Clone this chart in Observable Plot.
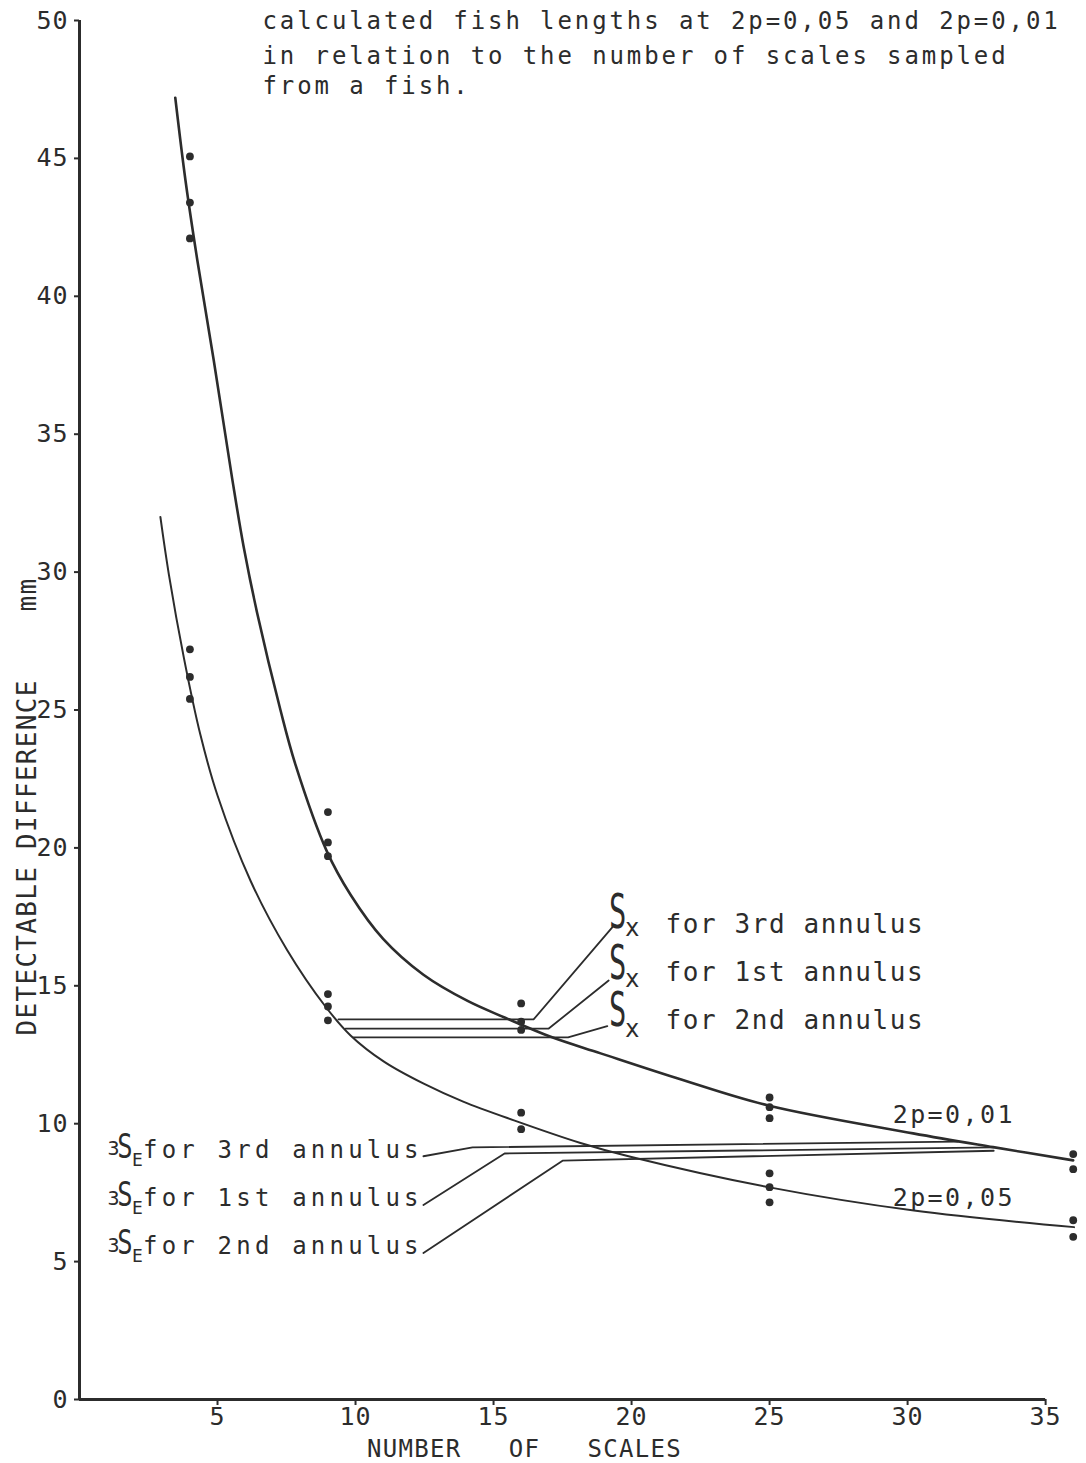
<!DOCTYPE html>
<html>
<head>
<meta charset="utf-8">
<script src="https://cdn.jsdelivr.net/npm/d3@7"></script>
<script src="https://cdn.jsdelivr.net/npm/@observablehq/plot@0.6"></script>
<style>
  html, body { margin: 0; padding: 0; background: #fff; }
</style>
</head>
<body>
<div id="chart"></div>
<script>
// ---------- data ----------
const xTicks = [5, 10, 15, 20, 25, 30, 35];
const yTicks = [0, 5, 10, 15, 20, 25, 30, 35, 40, 45, 50];

// fitted curve 2p=0,01 (upper)
const upperX = [3.47, 3.84, 4.27, 4.86, 5.53, 5.95, 6.44, 7.28, 7.83, 8.95, 9.82, 11.0, 12.46, 14.06, 15.4, 17.07, 18.88, 21.8, 24.95, 30.2, 33.1, 36.0];
const upperY = [47.2, 44.2, 41.3, 37.7, 33.4, 30.9, 28.5, 25.0, 23.0, 19.9, 18.3, 16.7, 15.4, 14.45, 13.85, 13.15, 12.55, 11.6, 10.66, 9.65, 9.15, 8.67];

// fitted curve 2p=0,05 (lower)
const lowerX = [2.93, 3.24, 3.78, 4.38, 5.0, 6.2, 7.52, 8.91, 9.82, 11.03, 12.47, 13.9, 15.74, 18.15, 19.96, 24.95, 30.23, 36.03];
const lowerY = [32.0, 29.9, 26.9, 24.1, 21.9, 18.8, 16.3, 14.25, 13.2, 12.25, 11.45, 10.8, 10.12, 9.3, 8.8, 7.7, 6.85, 6.25];

// observed points
const upperPtX = [4, 4, 4, 9, 9, 9, 16, 16, 16, 25, 25, 25, 36, 36];
const upperPtY = [45.07, 43.4, 42.1, 21.3, 20.2, 19.7, 14.36, 13.7, 13.4, 10.95, 10.6, 10.2, 8.9, 8.35];
const lowerPtX = [4, 4, 4, 9, 9, 9, 16, 16, 25, 25, 25, 36, 36];
const lowerPtY = [27.2, 26.2, 25.4, 14.7, 14.25, 13.75, 10.4, 9.8, 8.2, 7.7, 7.15, 6.5, 5.9];

// S_x levels (horizontal lines + leaders to labels)
const sxNames  = ["for 3rd annulus", "for 1st annulus", "for 2nd annulus"];
const sxLevel  = [13.78, 13.45, 13.13];
const sxStartX = [9.38, 9.64, 9.93];
const sxBendX  = [16.45, 17.0, 17.7];
const sxTipX   = [19.3, 19.17, 19.12];
const sxTipY   = [17.12, 15.19, 13.54];

// 3S_E levels (leaders from labels + nearly horizontal lines)
const seNames   = ["for 3rd annulus", "for 1st annulus", "for 2nd annulus"];
const seLeadX   = [12.46, 12.46, 12.46];
const seLeadY   = [8.82, 7.05, 5.31];
const seStartX  = [14.24, 15.4, 17.5];
const seStartY  = [9.14, 8.92, 8.66];
const seEndX    = [31.81, 33.12, 33.12];
const seEndY    = [9.35, 9.14, 9.02];

const titleLines = ["calculated fish lengths at 2p=0,05 and 2p=0,01",
                    "in relation to the number of scales sampled",
                    "from a fish."];
const curveNames = ["2p=0,01", "2p=0,05"];
const xTitle = "NUMBER\u00a0\u00a0\u00a0OF\u00a0\u00a0\u00a0SCALES";
const yTitle = "DETECTABLE\u00a0DIFFERENCE\u00a0\u00a0\u00a0\u00a0mm";

// ---------- annotation anchors (data units) ----------
const titleAt = {x: 6.63, y: [49.69, 48.44, 47.35]};
const curveLabelAt = {x: 29.46, y: [10.04, 7.03]};
const sxAt = {sX: 19.5, sY: [17.08, 15.26, 13.56], subX: 20.02, subY: [16.82, 14.94, 13.13], tX: 21.23, tY: [16.93, 15.19, 13.45]};
const seAt = {threeX: 1.23, threeY: [8.85, 7.07, 5.33], sX: 1.65, sY: [8.74, 7.0, 5.26], subX: 2.1, subY: [8.45, 6.71, 4.97], tX: 2.3, tY: [8.77, 7.03, 5.29]};
const xTitleAt = {x: 16.12, y: -2.1};
const yTitleAt = {x: -1.88, y: 21.5};

// ---------- tables ----------
const upper = upperX.map((x, i) => ({x, y: upperY[i]}));
const lower = lowerX.map((x, i) => ({x, y: lowerY[i]}));
const pts = upperPtX.map((x, i) => ({x, y: upperPtY[i]}))
  .concat(lowerPtX.map((x, i) => ({x, y: lowerPtY[i]})));
const sxPaths = sxLevel.flatMap((lv, k) => [
  {k, x: sxStartX[k], y: lv}, {k, x: sxBendX[k], y: lv}, {k, x: sxTipX[k], y: sxTipY[k]}
]);
const sePaths = seNames.flatMap((n, k) => [
  {k, x: seLeadX[k], y: seLeadY[k]}, {k, x: seStartX[k], y: seStartY[k]}, {k, x: seEndX[k], y: seEndY[k]}
]);
const titleRows = titleLines.map((t, i) => ({t, x: titleAt.x, y: titleAt.y[i]}));
const curveRows = curveNames.map((t, i) => ({t, x: curveLabelAt.x, y: curveLabelAt.y[i]}));
const sxS = sxNames.map((n, i) => ({t: "S", x: sxAt.sX, y: sxAt.sY[i]}));
const sxSub = sxNames.map((n, i) => ({t: "x", x: sxAt.subX, y: sxAt.subY[i]}));
const sxTxt = sxNames.map((t, i) => ({t, x: sxAt.tX, y: sxAt.tY[i]}));
const se3 = seNames.map((n, i) => ({t: "3", x: seAt.threeX, y: seAt.threeY[i]}));
const seS = seNames.map((n, i) => ({t: "S", x: seAt.sX, y: seAt.sY[i]}));
const seSub = seNames.map((n, i) => ({t: "E", x: seAt.subX, y: seAt.subY[i]}));
const seTxt = seNames.map((t, i) => ({t, x: seAt.tX, y: seAt.tY[i]}));

const ink = "#2c2c2c";
const mono = "DejaVu Sans Mono";

const chart = Plot.plot({
  width: 1086,
  height: 1463,
  marginLeft: 79,
  marginRight: 5,
  marginTop: 20,
  marginBottom: 64,
  x: {domain: [0, 36.3], axis: null},
  y: {domain: [0, 50], axis: null},
  style: {fontFamily: mono, fontSize: "25px", color: ink, background: "#fff", overflow: "visible"},
  marks: [
    Plot.axisY({ticks: yTicks, tickSize: 5, tickPadding: 6, tickFormat: d => String(d), label: null, strokeWidth: 2}),
    Plot.axisX({ticks: xTicks, tickSize: 6, tickPadding: 2, tickFormat: d => String(d), label: null, strokeWidth: 2}),
    Plot.ruleX([0], {y1: 0, y2: 50, stroke: ink, strokeWidth: 3}),
    Plot.ruleY([0], {x1: 0, x2: 35, stroke: ink, strokeWidth: 3}),
    Plot.line(upper, {x: "x", y: "y", curve: "catmull-rom", stroke: ink, strokeWidth: 2.6}),
    Plot.line(lower, {x: "x", y: "y", curve: "catmull-rom", stroke: ink, strokeWidth: 2}),
    Plot.line(sxPaths, {x: "x", y: "y", z: "k", stroke: ink, strokeWidth: 1.8}),
    Plot.line(sePaths, {x: "x", y: "y", z: "k", stroke: ink, strokeWidth: 1.8}),
    Plot.dot(pts, {x: "x", y: "y", r: 3.9, fill: ink, stroke: "none"}),
    Plot.text(titleRows, {x: "x", y: "y", text: "t", textAnchor: "start", lineAnchor: "bottom", fontSize: 24, fill: ink}),
    Plot.text(curveRows, {x: "x", y: "y", text: "t", textAnchor: "start", lineAnchor: "bottom", fontSize: 25, fill: ink}),
    Plot.text(sxS, {x: "x", y: "y", text: "t", textAnchor: "middle", lineAnchor: "bottom", fontSize: 48, fill: ink}),
    Plot.text(sxSub, {x: "x", y: "y", text: "t", textAnchor: "middle", lineAnchor: "bottom", fontSize: 24, fill: ink}),
    Plot.text(sxTxt, {x: "x", y: "y", text: "t", textAnchor: "start", lineAnchor: "bottom", fontSize: 26, fill: ink}),
    Plot.text(se3, {x: "x", y: "y", text: "t", textAnchor: "middle", lineAnchor: "bottom", fontSize: 20, fill: ink}),
    Plot.text(seS, {x: "x", y: "y", text: "t", textAnchor: "middle", lineAnchor: "bottom", fontSize: 34, fill: ink}),
    Plot.text(seSub, {x: "x", y: "y", text: "t", textAnchor: "middle", lineAnchor: "bottom", fontSize: 18, fill: ink}),
    Plot.text(seTxt, {x: "x", y: "y", text: "t", textAnchor: "start", lineAnchor: "bottom", fontSize: 24, fill: ink}),
    Plot.text([xTitleAt], {x: "x", y: "y", text: () => xTitle, textAnchor: "middle", lineAnchor: "bottom", fontSize: 24, fill: ink}),
    Plot.text([yTitleAt], {x: "x", y: "y", text: () => yTitle, textAnchor: "middle", lineAnchor: "middle", rotate: -90, fontSize: 26, fill: ink})
  ]
});

document.getElementById("chart").appendChild(chart);

// letter spacing of the plotter lettering, and narrow tall S glyphs
d3.select(chart).selectAll("text").each(function () {
  const s = this.textContent;
  const holder = this.closest("[font-size]");
  const fs = holder ? holder.getAttribute("font-size") : null;
  let ls = null;
  if (titleLines.includes(s)) ls = "2.9px";
  else if (curveNames.includes(s)) ls = "2.4px";
  else if (sxNames.includes(s) && fs === "26") ls = "1.6px";
  else if (seNames.includes(s)) ls = "4.2px";
  else if (s === xTitle) ls = "1.3px";
  else if (s === yTitle) ls = "1.3px";
  else if (/^\d+$/.test(s) && fs !== "20") ls = "1px";
  if (ls) this.style.letterSpacing = ls;
  if (s === "S") {
    const t = this.getAttribute("transform") || "";
    this.setAttribute("transform", t + (fs === "48" ? " scale(0.6,1)" : " scale(0.75,1)"));
  }
});
</script>
</body>
</html>
